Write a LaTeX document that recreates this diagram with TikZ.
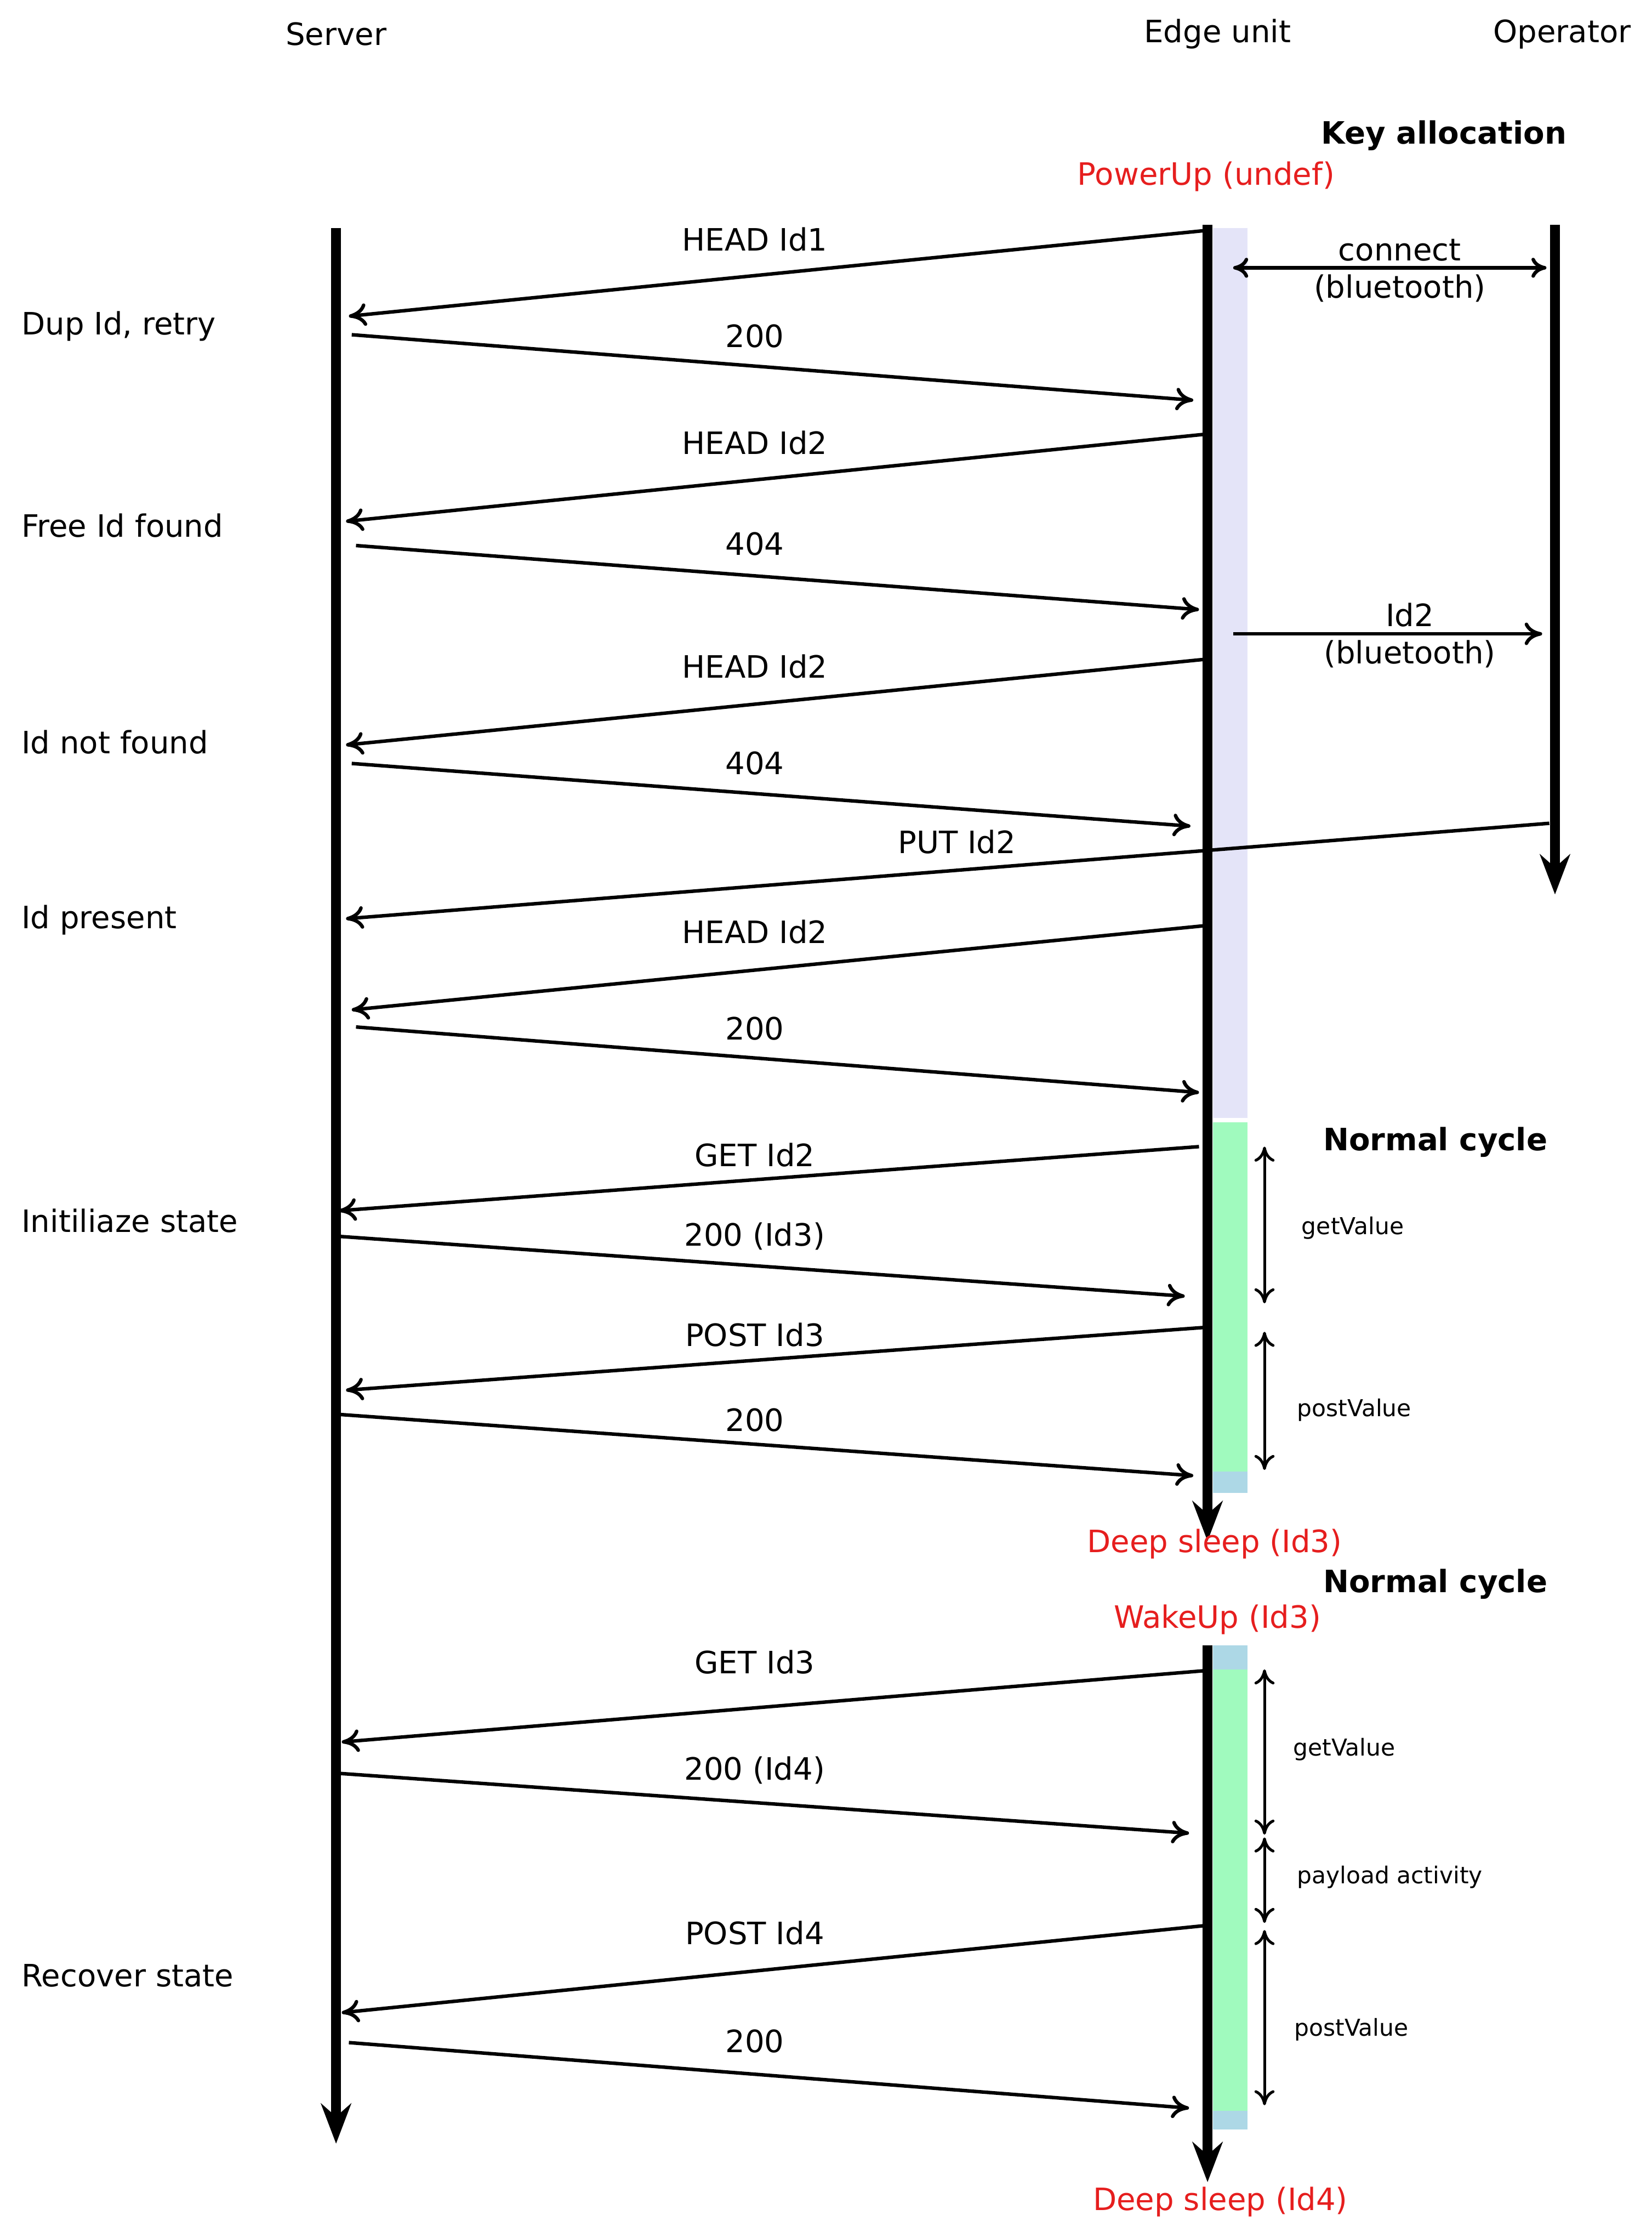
\documentclass[tikz,border=0pt]{standalone}
\usepackage{fontspec}
\setmainfont{DejaVu Sans}
\usetikzlibrary{arrows.meta}
\definecolor{lav}{RGB}{228,228,248}
\definecolor{grn}{RGB}{160,250,190}
\definecolor{lblue}{RGB}{173,216,230}
\definecolor{rd}{RGB}{230,30,30}
\begin{document}
\begin{tikzpicture}[x=0.02cm,y=-0.02cm,
  life/.style={line width=4pt,-{Stealth[length=16pt,width=12pt]}},
  msg/.style={line width=1.4pt,-{To[length=7pt,width=9pt]}},
  dbl/.style={line width=1.1pt,{To[length=6pt,width=8pt]}-{To[length=6pt,width=8pt]}},
  lbl/.style={font=\fontsize{12.3}{15}\selectfont,inner sep=1pt},
  slbl/.style={font=\fontsize{9.3}{11}\selectfont,inner sep=1pt},
  red/.style={lbl,text=rd},
  bold/.style={lbl,font=\fontsize{12.3}{15}\selectfont\bfseries}]
\useasboundingbox (0,0) rectangle (1160,1567);
% bars
\fill[lav] (852,160) rectangle (876,785);
\fill[grn] (852,788) rectangle (876,1033);
\fill[lblue] (852,1033) rectangle (876,1048);
\fill[lblue] (852,1155) rectangle (876,1172);
\fill[grn] (852,1172) rectangle (876,1482);
\fill[lblue] (852,1482) rectangle (876,1495);
% headers
\node[lbl] (hs) at (236,24) {Server};
\node[lbl] (he) at (855,24) {Edge unit};
\node[lbl] (ho) at (1097,24) {Operator};
\node[bold] (ka) at (1014,95) {Key allocation};
\node[red] (pu) at (847,124) {PowerUp (undef)};
% lifelines
\coordinate (s0) at (236,160); \coordinate (s1) at (236,1505);
\coordinate (e0) at (848,158); \coordinate (e1) at (848,1082);
\coordinate (e2) at (848,1155); \coordinate (e3) at (848,1532);
\coordinate (o0) at (1092,158); \coordinate (o1) at (1092,628);
\draw[life] (s0) -- (s1);
\draw[life] (e0) -- (e1);
\draw[life] (e2) -- (e3);
\draw[life] (o0) -- (o1);
% messages
\foreach \ax/\ay/\bx/\by/\lx/\ly/\t in {
 845/162/245/222/530/168/{HEAD Id1},
 247/235/838/281/530/236/{200},
 845/305/243/366/530/311/{HEAD Id2},
 250/383/842/428/530/382/{404},
 845/463/243/523/530/468/{HEAD Id2},
 247/536/836/580/530/536/{404},
 1088/578/243/645/672/591/{PUT Id2},
 845/650/247/709/530/654/{HEAD Id2},
 250/721/842/767/530/722/{200},
 842/805/238/850/530/811/{GET Id2},
 238/868/832/910/530/868/{200 (Id3)},
 845/932/243/976/530/937/{POST Id3},
 238/993/838/1036/530/997/{200},
 845/1173/240/1223/530/1167/{GET Id3},
 238/1245/835/1287/530/1243/{200 (Id4)},
 845/1352/240/1413/530/1357/{POST Id4},
 245/1434/835/1480/530/1433/{200}}
 {\coordinate (ma) at (\ax,\ay); \coordinate (mb) at (\bx,\by);
  \draw[msg] (ma) -- (mb);
  \node[lbl] at (\lx,\ly) {\t};}
% bluetooth
\coordinate (c0) at (866,188); \coordinate (c1) at (1086,188);
\draw[dbl,line width=1.4pt] (c0) -- (c1);
\node[lbl,align=center] (cl) at (983,190) {connect\\(bluetooth)};
\coordinate (i0) at (866,445); \coordinate (i1) at (1083,445);
\draw[msg] (i0) -- (i1);
\node[lbl,align=center] (il) at (990,446) {Id2\\(bluetooth)};
% left labels
\foreach \y/\t in {229/{Dup Id, retry},369/{Free Id found},521/{Id not found},646/{Id present},857/{Initiliaze state},1387/{Recover state}}
 \node[lbl,anchor=west] at (13,\y) {\t};
% cycles
\node[bold] (nc1) at (1008,802) {Normal cycle};
\node[bold] (nc2) at (1008,1112) {Normal cycle};
\node[red] (ds1) at (853,1084) {Deep sleep (Id3)};
\node[red] (wu) at (855,1137) {WakeUp (Id3)};
\node[red] (ds2) at (857,1546) {Deep sleep (Id4)};
\foreach \a/\b/\lx/\ly/\t in {805/915/950/862/getValue,935/1032/951/990/postValue,1172/1288/944/1228/getValue,1290/1350/976/1318/{payload activity},1355/1478/949/1425/postValue}
 {\coordinate (da) at (888,\a); \coordinate (db) at (888,\b);
  \draw[dbl] (da) -- (db);
  \node[slbl] at (\lx,\ly) {\t};}
\end{tikzpicture}
\end{document}
